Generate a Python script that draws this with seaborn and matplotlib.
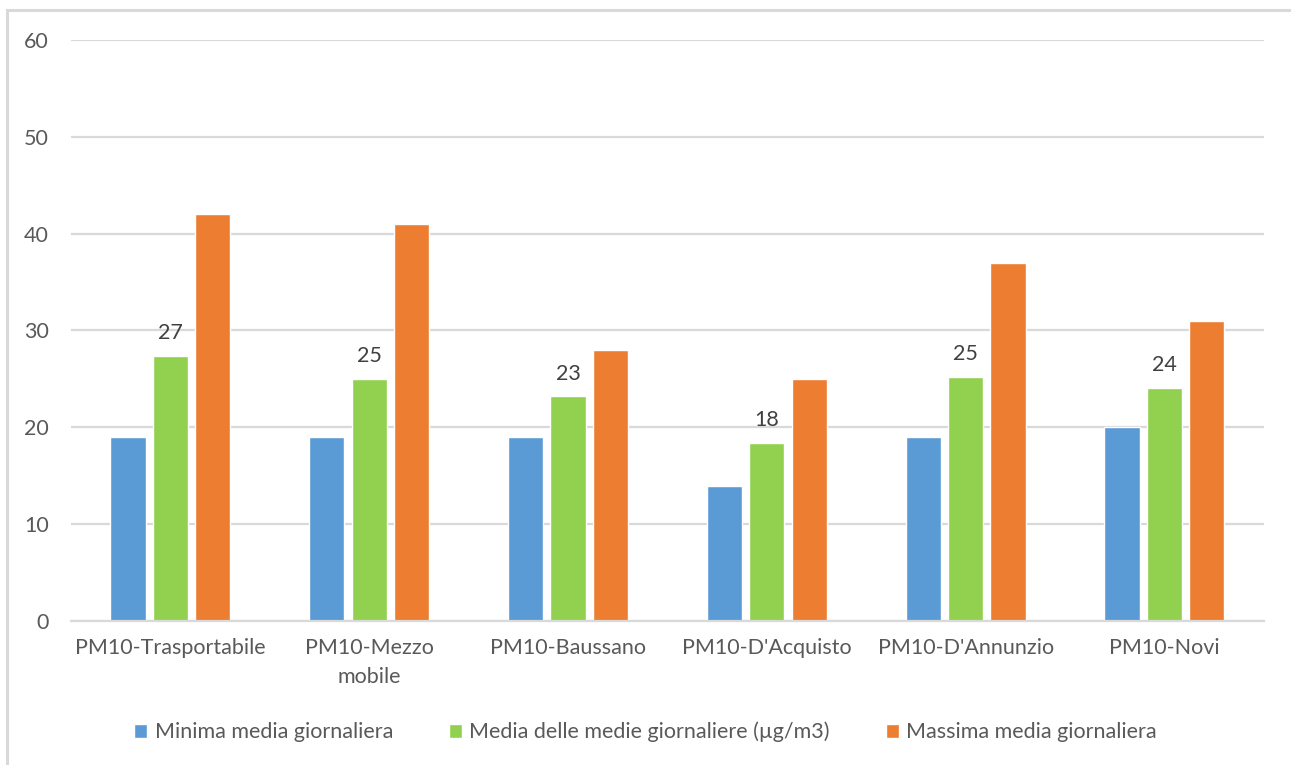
import textwrap
import matplotlib
matplotlib.use("Agg")
import matplotlib.pyplot as plt
from matplotlib.patches import Rectangle
import pandas as pd
import seaborn as sns

# Stations and daily PM10 statistics (µg/m3)
stations = ["PM10-Trasportabile", "PM10-Mezzo mobile", "PM10-Baussano",
            "PM10-D'Acquisto", "PM10-D'Annunzio", "PM10-Novi"]
min_daily = [19, 19, 19, 14, 19, 20]
mean_daily = [27.4, 25.0, 23.2, 18.4, 25.2, 24.1]
max_daily = [42, 41, 28, 25, 37, 31]

series_names = ["Minima media giornaliera",
                "Media delle medie giornaliere (µg/m3)",
                "Massima media giornaliera"]
series_colors = ["#5B9BD5", "#92D050", "#ED7D31"]
y_ticks = [0, 10, 20, 30, 40, 50, 60]

rows = []
for name, values in zip(series_names, [min_daily, mean_daily, max_daily]):
    for st, v in zip(stations, values):
        rows.append({"Stazione": st, "Serie": name, "Valore": v})
df = pd.DataFrame(rows)

sns.set_theme(style="white")
plt.rcParams["font.family"] = ["Lato", "DejaVu Sans"]
FS = 15.5

fig = plt.figure(figsize=(12.91, 7.65), dpi=100)
ax = fig.add_axes([0.055, 0.188, 0.924, 0.760])

sns.barplot(data=df, x="Stazione", y="Valore", hue="Serie", order=stations,
            hue_order=series_names, palette=series_colors, width=0.64,
            gap=0.17, saturation=1, ax=ax, legend=True, errorbar=None)

ax.set_ylim(0, 60)
ax.set_xlim(-0.5, len(stations) - 0.5)
ax.set_yticks(y_ticks)
ax.yaxis.grid(True, color="#D9D9D9", linewidth=1.6)
ax.set_axisbelow(True)
for side in ["top", "right", "left"]:
    ax.spines[side].set_visible(False)
ax.spines["bottom"].set_color("#D9D9D9")
ax.spines["bottom"].set_linewidth(1.6)
ax.tick_params(axis="both", length=0, colors="#595959", labelsize=FS)
ax.tick_params(axis="y", pad=16)
ax.tick_params(axis="x", pad=12)
ax.set_xticks(range(len(stations)))
ax.set_xticklabels([textwrap.fill(s, 16, break_long_words=False,
                                  break_on_hyphens=False) for s in stations],
                   linespacing=1.6)
ax.set_xlabel("")
ax.set_ylabel("")

# Value labels on the mean bars
ax.bar_label(ax.containers[1], fmt="%.0f", padding=9, fontsize=FS,
             color="#404040")

# Legend centred on the whole figure
handles, labels = ax.get_legend_handles_labels()
ax.get_legend().remove()
leg = fig.legend(handles, labels, loc="center", bbox_to_anchor=(0.5, 1 - 732 / 765),
                 ncol=3, frameon=False, fontsize=FS, handlelength=0.6,
                 handleheight=0.6, handletextpad=0.35, columnspacing=2.6)
for t in leg.get_texts():
    t.set_color("#595959")

# Light chart-area border (left and top edges visible)
top = 1 - 10 / 765
fig.patches.append(Rectangle((7 / 1291, -0.05), 1.2, top + 0.05,
                             transform=fig.transFigure, fill=False,
                             edgecolor="#D9D9D9", linewidth=2.2))

fig.savefig("out.png", dpi=100, facecolor="white")
